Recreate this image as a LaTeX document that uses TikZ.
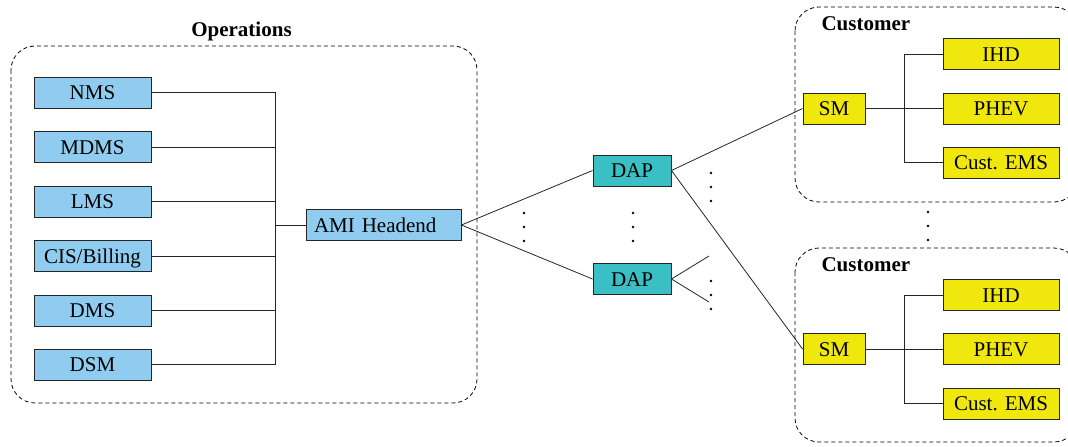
\documentclass[tikz,border=0pt]{standalone}
\usepackage{fontspec}
\setmainfont{Liberation Serif}
\begin{document}
\begin{tikzpicture}[x=1pt,y=-1pt,
  every node/.style={font=\fontsize{21}{25}\selectfont},
  box/.style={draw=black!85, line width=0.9pt, minimum height=31pt, inner sep=0pt, text height=14pt, text depth=0pt},
  opsbox/.style={box, fill=opsblue, minimum width=117pt},
  dapbox/.style={box, fill=dapteal, minimum width=78pt},
  custbox/.style={box, fill=custyellow, minimum width=116pt},
  smbox/.style={box, fill=custyellow, minimum width=62pt},
  frame/.style={draw=black, dashed, dash pattern=on 4pt off 3pt, line width=0.8pt, rounded corners=24pt},
  wire/.style={draw=black!85, line width=0.8pt},
  title/.style={font=\fontsize{21}{25}\selectfont\bfseries},
  dotc/.style={fill=black}
]
\definecolor{opsblue}{RGB}{143,204,239}
\definecolor{dapteal}{RGB}{58,191,196}
\definecolor{custyellow}{RGB}{240,231,12}
\useasboundingbox (0,0) rectangle (1068,447);
\clip (0,0) rectangle (1068,447);

% frames
\draw[frame] (11,46) rectangle (477,403);
\draw[frame] (795,7) rectangle (1078,202);
\draw[frame] (795,248) rectangle (1078,442);
\node[title] (ops) at (241.5,31) {Operations};
\node[title, anchor=west] (cust1) at (818,24) {Customer};
\node[title, anchor=west] (cust2) at (818,265) {Customer};

% operations boxes
\node[opsbox] (nms)  at (92.5,92.5) {NMS};
\node[opsbox] (mdms) at (92.5,147) {MDMS};
\node[opsbox] (lms)  at (92.5,201.5) {LMS};
\node[opsbox] (cis)  at (92.5,256) {CIS/Billing};
\node[opsbox] (dms)  at (92.5,310.5) {DMS};
\node[opsbox] (dsm)  at (92.5,364.5) {DSM};
\node[box, fill=opsblue, inner xsep=8pt, text width=139pt, align=left] (ami) at (383.5,225) {AMI Headend};
\coordinate (bus) at (275,225);
\draw[wire] (nms.east) -| (bus);
\draw[wire] (dsm.east) -| (bus);
\draw[wire] (mdms.east) -- (mdms.east -| bus);
\draw[wire] (lms.east) -- (lms.east -| bus);
\draw[wire] (cis.east) -- (cis.east -| bus);
\draw[wire] (dms.east) -- (dms.east -| bus);
\draw[wire] (bus) -- (ami.west);

% DAPs
\node[dapbox] (dap1) at (632,170.5) {DAP};
\node[dapbox] (dap2) at (632,279) {DAP};
\draw[wire] (ami.east) -- (dap1.west);
\draw[wire] (ami.east) -- (dap2.west);
\coordinate (f1) at (709,256);
\coordinate (f2) at (709,302);
\draw[wire] (dap2.east) -- (f1);
\draw[wire] (dap2.east) -- (f2);

% customers
\node[smbox] (sm1) at (834,108.5) {SM};
\node[custbox] (ihd1) at (1001,54) {IHD};
\node[custbox] (phev1) at (1001,108.5) {PHEV};
\node[custbox] (ems1) at (1001,162.5) {Cust. EMS};
\coordinate (c1) at (904,108.5);
\draw[wire] (sm1.east) -- (phev1.west);
\draw[wire] (ihd1.west) -| (c1);
\draw[wire] (ems1.west) -| (c1);

\node[smbox] (sm2) at (834,349) {SM};
\node[custbox] (ihd2) at (1001,295) {IHD};
\node[custbox] (phev2) at (1001,349) {PHEV};
\node[custbox] (ems2) at (1001,403.5) {Cust. EMS};
\coordinate (c2) at (904,349);
\draw[wire] (sm2.east) -- (phev2.west);
\draw[wire] (ihd2.west) -| (c2);
\draw[wire] (ems2.west) -| (c2);

\draw[wire] (dap1.east) -- (sm1.west);
\draw[wire] (dap1.east) -- (sm2.west);

% ellipsis dots
\foreach \px/\py in {524/213, 633/213, 711/173, 711/281, 928/212}{
  \foreach \k in {0,14,28}{
    \fill[dotc] (\px,\py+\k) circle (1.4pt);
  }
}
\end{tikzpicture}
\end{document}
